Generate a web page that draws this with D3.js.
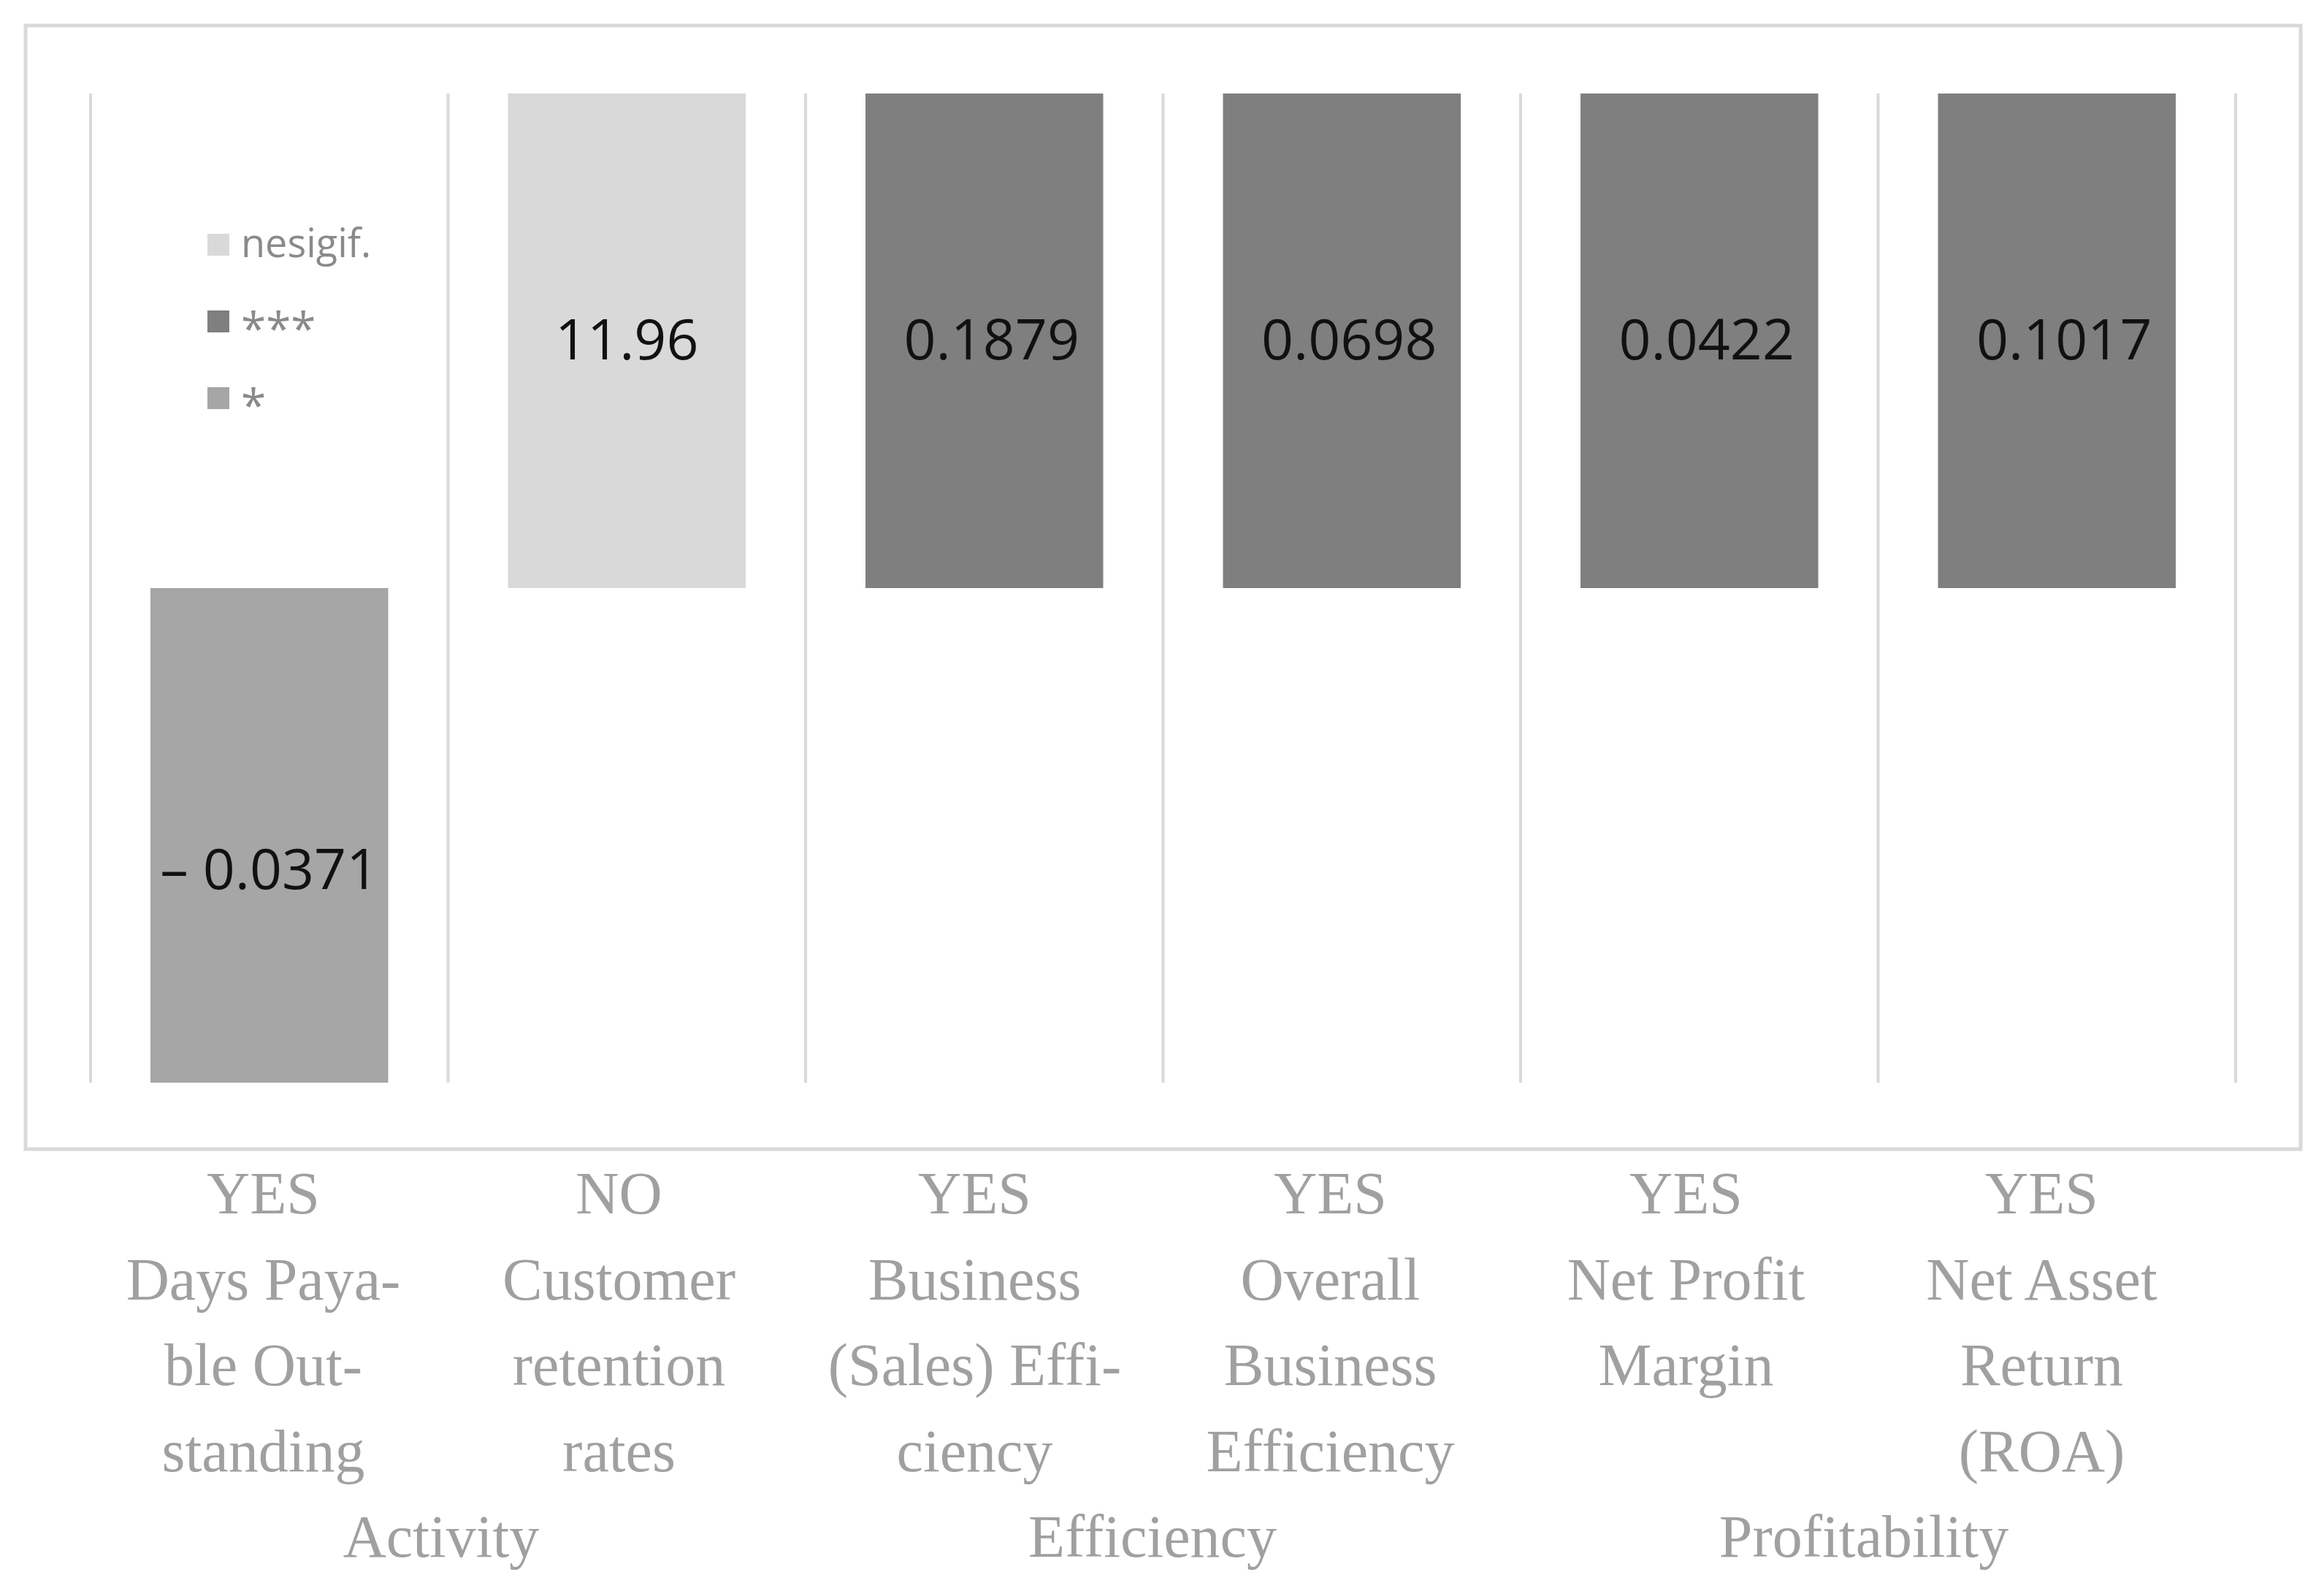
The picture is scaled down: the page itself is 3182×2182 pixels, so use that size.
<!DOCTYPE html>
<html>
<head>
<meta charset="utf-8">
<script src="https://cdn.jsdelivr.net/npm/d3@7"></script>
<style>
  html, body { margin: 0; padding: 0; background: #ffffff; }
  svg { display: block; }
</style>
</head>
<body>
<svg id="chart" width="3182" height="2182"></svg>
<script>
// ---------- data ----------
const categories = ["Days Payable Outstanding", "Customer retention rates", "Business (Sales) Efficiency",
                    "Overall Business Efficiency", "Net Profit Margin", "Net Asset Return (ROA)"];
const categoryLines = [
  ["Days Paya-", "ble Out-", "standing"],
  ["Customer", "retention", "rates"],
  ["Business", "(Sales) Effi-", "ciency"],
  ["Overall", "Business", "Efficiency"],
  ["Net Profit", "Margin"],
  ["Net Asset", "Return", "(ROA)"]
];
const significant = ["YES", "NO", "YES", "YES", "YES", "YES"];
const groups = ["Activity", "Activity", "Efficiency", "Efficiency", "Profitability", "Profitability"];
const coefficients = [-0.0371, 11.96, 0.1879, 0.0698, 0.0422, 0.1017];
const coefficientLabels = ["\u2013 0.0371", "11.96", "0.1879", "0.0698", "0.0422", "0.1017"];
const barHeights = [-1, 1, 1, 1, 1, 1];
const sigLevels = ["*", "nesigif.", "***", "***", "***", "***"];
const legendItems = ["nesigif.", "***", "*"];
const sigColors = ["#d9d9d9", "#7f7f7f", "#a6a6a6"];

// ---------- layout ----------
const svg = d3.select("#chart");
const W = 3182, H = 2182;
svg.append("rect").attr("x", 0).attr("y", 0).attr("width", W).attr("height", H).attr("fill", "#ffffff");

// plot frame
svg.append("rect")
  .attr("x", 35).attr("y", 35).attr("width", 3150 - 35).attr("height", 1573 - 35)
  .attr("fill", "none").attr("stroke", "#d9d9d9").attr("stroke-width", 5);

const x = d3.scaleBand().domain(categories).range([124, 3061]).paddingInner(0.335).paddingOuter(0.1675);
const xCells = d3.scaleBand().domain(categories).range([124, 3061]).padding(0);
const y = d3.scaleLinear().domain([-1, 1]).range([1482, 128]);
const color = d3.scaleOrdinal().domain(legendItems).range(sigColors);

// vertical separators (category boundaries)
const bounds = categories.map(c => xCells(c)).concat([xCells.range()[1]]);
svg.append("g").selectAll("line").data(bounds).join("line")
  .attr("x1", d => d).attr("x2", d => d)
  .attr("y1", y(1)).attr("y2", y(-1))
  .attr("stroke", "#d9d9d9").attr("stroke-width", 4);

// bars
const data = categories.map((c, i) => ({
  c, v: barHeights[i], coef: coefficients[i], label: coefficientLabels[i], sig: sigLevels[i]
}));

svg.append("g").selectAll("rect").data(data).join("rect")
  .attr("x", d => x(d.c))
  .attr("width", x.bandwidth())
  .attr("y", d => y(Math.max(0, d.v)))
  .attr("height", d => Math.abs(y(d.v) - y(0)))
  .attr("fill", d => color(d.sig));

// value labels
svg.append("g").selectAll("text").data(data).join("text")
  .attr("x", d => x(d.c) + x.bandwidth() / 2 + (d.v > 0 && d.sig === "***" ? 10 : 0))
  .attr("y", d => (y(d.v) + y(0)) / 2 + (d.v < 0 ? 44 : -4))
  .attr("text-anchor", "middle")
  .attr("dominant-baseline", "central")
  .attr("font-family", "'Open Sans', sans-serif")
  .attr("font-size", 77)
  .attr("fill", "#111111")
  .text(d => d.label);

// legend
const legend = svg.append("g");
const legY0 = 335, legStep = 105;
legendItems.forEach((item, i) => {
  const cy = legY0 + i * legStep;
  legend.append("rect")
    .attr("x", 284).attr("y", cy - 15).attr("width", 30).attr("height", 30)
    .attr("fill", color(item));
  legend.append("text")
    .attr("x", 330)
    .attr("y", item === "nesigif." ? cy + 17 : cy + 32)
    .attr("font-family", "'Open Sans', sans-serif")
    .attr("font-size", item === "nesigif." ? 54 : 62)
    .attr("fill", "#8a8a8a")
    .text(item);
});

// category labels (below frame)
const labelX = d3.scaleBand().domain(categories).range([117, 3039]).padding(0);
const lineStep = 117.5;
const baseY = 1661;
const labelFont = "'Liberation Serif', 'Times New Roman', serif";
const labelColor = "#a0a0a0";

const catG = svg.append("g");
categories.forEach((c, i) => {
  const cx = labelX(c) + labelX.bandwidth() / 2;
  const lines = [significant[i]].concat(categoryLines[i]);
  lines.forEach((ln, j) => {
    catG.append("text")
      .attr("x", cx).attr("y", baseY + j * lineStep)
      .attr("text-anchor", "middle")
      .attr("font-family", labelFont)
      .attr("font-size", 82)
      .attr("fill", labelColor)
      .text(ln);
  });
});

// group labels
const groupNames = Array.from(new Set(groups));
groupNames.forEach(g => {
  const members = categories.filter((c, i) => groups[i] === g);
  const xs = members.map(c => labelX(c) + labelX.bandwidth() / 2);
  const cx = d3.mean(xs);
  svg.append("text")
    .attr("x", cx).attr("y", baseY + 4 * lineStep)
    .attr("text-anchor", "middle")
    .attr("font-family", labelFont)
    .attr("font-size", 82)
    .attr("fill", labelColor)
    .text(g);
});
</script>
</body>
</html>
